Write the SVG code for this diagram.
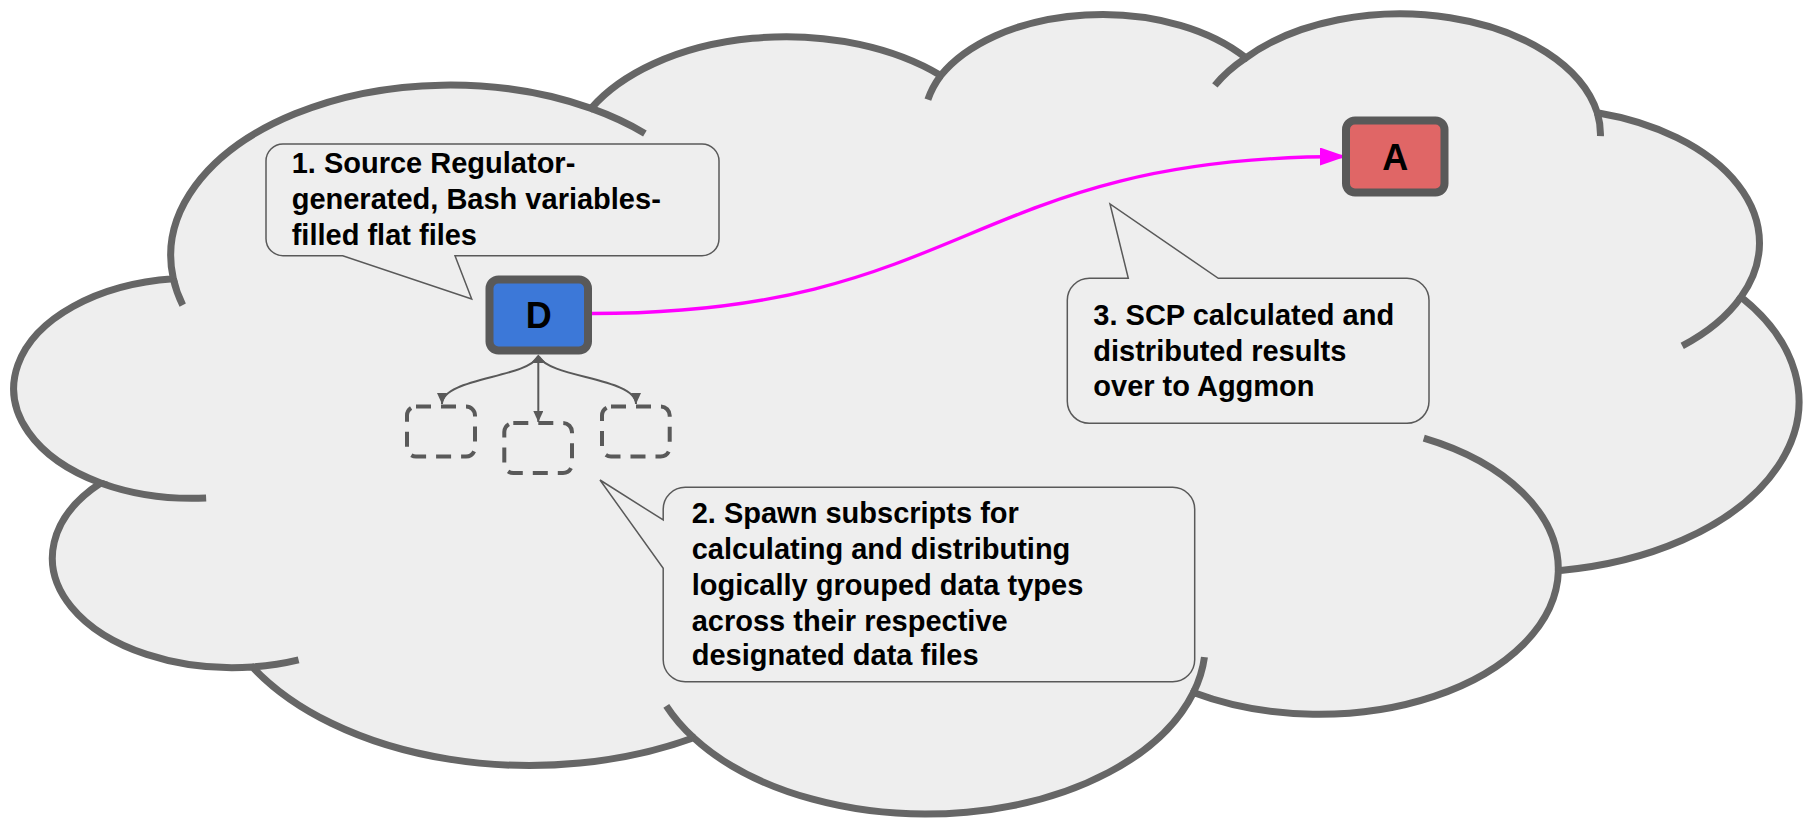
<svg xmlns="http://www.w3.org/2000/svg" width="1805" height="820" viewBox="0 0 1805 820">
  <defs>
    <style>
      .cloud-body { fill: #eeeeee; stroke: #666666; stroke-width: 7; }
      .cloud-tail { fill: none; stroke: #666666; stroke-width: 7; }
      .callout { fill: #eeeeee; stroke: #595959; stroke-width: 1.5; }
      .note { font-family: "Liberation Sans", Arial, sans-serif; font-weight: bold; font-size: 29px; fill: #000000; }
      .node-box { stroke: #595959; stroke-width: 8; }
      .node-label { font-family: "Liberation Sans", Arial, sans-serif; font-weight: bold; font-size: 36px; fill: #000000; text-anchor: middle; }
      .slot { fill: none; stroke: #595959; stroke-width: 4; stroke-dasharray: 15 10; }
      .spawn { fill: none; stroke: #595959; stroke-width: 2; }
      .flow { fill: none; stroke: #ff00ff; stroke-width: 3.3; }
    </style>
    <marker id="head-flow" markerUnits="userSpaceOnUse" markerWidth="26" markerHeight="18" viewBox="0 0 26 18" refX="25" refY="9" orient="auto">
      <path d="M0,0 L26,9 L0,18 Z" fill="#ff00ff"/>
    </marker>
    <marker id="head-spawn" markerUnits="userSpaceOnUse" markerWidth="11" markerHeight="10" viewBox="0 0 11 10" refX="11" refY="5" orient="auto">
      <path d="M0,0 L11,5 L0,10 Z" fill="#595959"/>
    </marker>
  </defs>

  <rect width="1805" height="820" fill="#ffffff"/>

  <!-- cloud outline, built in a 43200 x 43200 unit space -->
  <g id="cloud" transform="translate(12,12) scale(0.041366,0.018565)">
    <path class="cloud-body" vector-effect="non-scaling-stroke"
      d="M3900,14370
         A6753,9190 0 0 1 14000,5192
         A5333,7267 0 0 1 22451,3422
         A4365,5945 0 0 1 29828,2470
         A4857,6595 0 0 1 38324,5426
         A5333,7273 0 0 1 41798,15354
         A6775,9220 0 0 1 37383,30095
         A5785,7867 0 0 1 28560,36660
         A6752,9215 0 0 1 16478,39090
         A7720,10543 0 0 1 5815,35285
         A4360,5918 0 0 1 2145,25370
         A4345,5945 0 0 1 3900,14370 Z"/>
    <path class="cloud-tail" vector-effect="non-scaling-stroke"
      d="M4693,26177 A4345,5945 0 0 1 2160,25380
         M6928,34899 A4360,5918 0 0 1 5820,35280
         M16478,39090 A6752,9215 0 0 1 15817,37371
         M28827,34751 A6752,9215 0 0 1 28560,36660
         M34129,22954 A5785,7867 0 0 1 37382,30093
         M41798,15354 A5333,7273 0 0 1 40377,17985
         M38324,5426 A4857,6595 0 0 1 38400,6690
         M29078,3952 A4857,6595 0 0 1 29828,2470
         M22141,4720 A4365,5945 0 0 1 22451,3422
         M14000,5192 A6753,9190 0 0 1 15300,6541
         M4127,15789 A6753,9190 0 0 1 3900,14370"/>
  </g>

  <!-- connectors -->
  <g id="connectors">
    <path class="flow" d="M592,313.5 C967,313.5 967,156.5 1345,156.5" marker-end="url(#head-flow)"/>
    <path class="spawn" d="M538,357 C526,378 442,378 442,404" marker-end="url(#head-spawn)"/>
    <path class="spawn" d="M538.3,357 V422" marker-end="url(#head-spawn)"/>
    <path class="spawn" d="M539,357 C551,378 636,378 636,404" marker-end="url(#head-spawn)"/>
    <polygon points="538.3,354.5 531,363 546,363" fill="#595959"/>
  </g>

  <!-- callout 1 -->
  <g id="note-source">
    <path class="callout" d="M283,144 H702 A17,17 0 0 1 719,161 V238.7 A17,17 0 0 1 702,255.7 H455 L471.7,299 L342.7,255.7 H283 A17,17 0 0 1 266,238.7 V161 A17,17 0 0 1 283,144 Z"/>
    <text class="note" x="291.7" y="173.3">1. Source Regulator-</text>
    <text class="note" x="291.7" y="209">generated, Bash variables-</text>
    <text class="note" x="291.7" y="245">filled flat files</text>
  </g>

  <!-- callout 2 -->
  <g id="note-spawn">
    <path class="callout" d="M685.2,487.3 H1172.7 A22,22 0 0 1 1194.7,509.3 V659.7 A22,22 0 0 1 1172.7,681.7 H685.2 A22,22 0 0 1 663.2,659.7 V568.3 L600,480 L663.2,520 V509.3 A22,22 0 0 1 685.2,487.3 Z"/>
    <text class="note" x="691.7" y="523.3">2. Spawn subscripts for</text>
    <text class="note" x="691.7" y="559.3">calculating and distributing</text>
    <text class="note" x="691.7" y="595">logically grouped data types</text>
    <text class="note" x="691.7" y="630.7">across their respective</text>
    <text class="note" x="691.7" y="665">designated data files</text>
  </g>

  <!-- callout 3 -->
  <g id="note-scp">
    <path class="callout" d="M1089.3,278.3 H1128.3 L1110,204 L1218.3,278.3 H1407 A22,22 0 0 1 1429,300.3 V401.3 A22,22 0 0 1 1407,423.3 H1089.3 A22,22 0 0 1 1067.3,401.3 V300.3 A22,22 0 0 1 1089.3,278.3 Z"/>
    <text class="note" x="1093.3" y="325">3. SCP calculated and</text>
    <text class="note" x="1093.3" y="360.5">distributed results</text>
    <text class="note" x="1093.3" y="396">over to Aggmon</text>
  </g>

  <!-- node D -->
  <g id="node-d">
    <rect class="node-box" x="489.5" y="279.5" width="98.5" height="71" rx="9" fill="#3c78d8"/>
    <text class="node-label" x="538.7" y="328.3">D</text>
  </g>

  <!-- node A -->
  <g id="node-a">
    <rect class="node-box" x="1346" y="120.5" width="98.5" height="72" rx="9" fill="#e06666"/>
    <text class="node-label" x="1395.2" y="170">A</text>
  </g>

  <!-- spawned subscript slots -->
  <g id="slot-1"><rect class="slot" x="407" y="406.5" width="68" height="50" rx="9"/></g>
  <g id="slot-2"><rect class="slot" x="504.3" y="423" width="67.7" height="50" rx="9"/></g>
  <g id="slot-3"><rect class="slot" x="602" y="406.5" width="67.7" height="50" rx="9"/></g>
</svg>
